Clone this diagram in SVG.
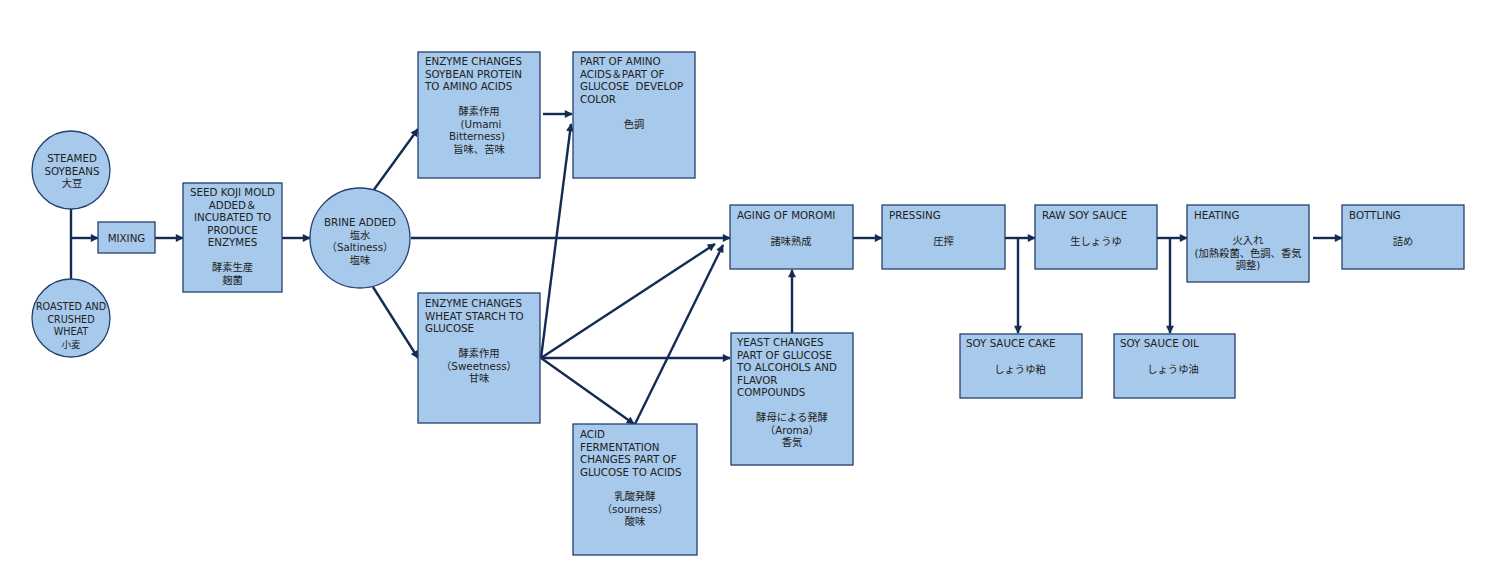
<svg xmlns="http://www.w3.org/2000/svg" width="1500" height="577" viewBox="0 0 1500 577">
<style>
.box{fill:#a7c9eb;stroke:#24406e;stroke-width:1.3}
.t{font-family:"DejaVu Sans","Noto Sans CJK JP",sans-serif;font-size:10.3px;fill:#222}
.c{text-anchor:middle}
.ln{stroke:#142b55;stroke-width:2.4;fill:none}
.ar{marker-end:url(#ah)}
</style>
<defs>
<marker id="ah" viewBox="0 0 10 10" refX="9" refY="5" markerUnits="userSpaceOnUse" markerWidth="9" markerHeight="8" orient="auto">
<path d="M0,0 L10,5 L0,10 z" fill="#142b55"/>
</marker>
</defs>
<rect width="1500" height="577" fill="#fff"/>
<g id="connectors">
<line class="ln" x1="71" y1="209" x2="71" y2="279"/>
<line class="ln ar" x1="71" y1="238" x2="98" y2="238"/>
<line class="ln ar" x1="155" y1="238" x2="183" y2="238"/>
<line class="ln ar" x1="282" y1="238" x2="310" y2="238"/>
<line class="ln ar" x1="373" y1="191" x2="418" y2="129"/>
<line class="ln ar" x1="373" y1="287" x2="418" y2="358"/>
<line class="ln ar" x1="411" y1="238" x2="730" y2="238"/>
<line class="ln ar" x1="543" y1="114" x2="572" y2="114"/>
<line class="ln ar" x1="541" y1="358" x2="571" y2="124"/>
<line class="ln ar" x1="541" y1="358" x2="715" y2="244"/>
<line class="ln ar" x1="541" y1="358" x2="730" y2="358"/>
<line class="ln ar" x1="541" y1="358" x2="634" y2="424"/>
<line class="ln ar" x1="635" y1="424" x2="723" y2="245"/>
<line class="ln ar" x1="792" y1="333" x2="792" y2="270"/>
<line class="ln ar" x1="853" y1="238" x2="882" y2="238"/>
<line class="ln ar" x1="1005" y1="238" x2="1035" y2="238"/>
<line class="ln ar" x1="1018" y1="237" x2="1018" y2="333"/>
<line class="ln ar" x1="1157" y1="238" x2="1187" y2="238"/>
<line class="ln ar" x1="1170" y1="237" x2="1170" y2="333"/>
<line class="ln ar" x1="1313" y1="238" x2="1342" y2="238"/>
</g>
<g id="steamed">
<circle class="box" cx="71" cy="170" r="39"/>
<text class="t c" x="72" y="162">STEAMED<tspan x="72" dy="12.5">SOYBEANS</tspan><tspan x="72" dy="12.5">大豆</tspan></text>
</g>
<g id="roasted">
<circle class="box" cx="71" cy="318" r="39"/>
<text class="t c" x="71" y="310" style="font-size:9.6px">ROASTED AND<tspan x="71" dy="12.5">CRUSHED</tspan><tspan x="71" dy="12.5">WHEAT</tspan><tspan x="71" dy="12.5">小麦</tspan></text>
</g>
<g id="mixing">
<rect class="box" x="98" y="222" width="57" height="31"/>
<text class="t c" x="126.5" y="242">MIXING</text>
</g>
<g id="seedkoji">
<rect class="box" x="183" y="183" width="99" height="109"/>
<text class="t c" x="232.5" y="196">SEED KOJI MOLD<tspan x="232.5" dy="12.5">ADDED＆</tspan><tspan x="232.5" dy="12.5">INCUBATED TO</tspan><tspan x="232.5" dy="12.5">PRODUCE</tspan><tspan x="232.5" dy="12.5">ENZYMES</tspan><tspan x="232.5" dy="25">酵素生産</tspan><tspan x="232.5" dy="12.5">麹菌</tspan></text>
</g>
<g id="brine">
<circle class="box" cx="360" cy="238" r="50"/>
<text class="t c" x="360" y="226">BRINE ADDED<tspan x="360" dy="12.5">塩水</tspan><tspan x="360" dy="12.5">（Saltiness）</tspan><tspan x="360" dy="12.5">塩味</tspan></text>
</g>
<g id="enzyme-soy">
<rect class="box" x="418" y="52" width="122" height="126"/>
<text class="t" x="425" y="65">ENZYME CHANGES<tspan x="425" dy="12.5">SOYBEAN PROTEIN</tspan><tspan x="425" dy="12.5">TO AMINO ACIDS</tspan></text>
<text class="t c" x="479" y="115">酵素作用<tspan x="481" dy="12.5">(Umami</tspan><tspan x="477" dy="12.5">Bitterness)</tspan><tspan x="479" dy="12.5">旨味、苦味</tspan></text>
</g>
<g id="color">
<rect class="box" x="573" y="52" width="122" height="126"/>
<text class="t" x="580" y="65">PART OF AMINO<tspan x="580" dy="12.5">ACIDS＆PART OF</tspan><tspan x="580" dy="12.5">GLUCOSE&#160; DEVELOP</tspan><tspan x="580" dy="12.5">COLOR</tspan></text>
<text class="t c" x="634" y="128">色調</text>
</g>
<g id="enzyme-wheat">
<rect class="box" x="418" y="293" width="122" height="130"/>
<text class="t" x="425" y="307">ENZYME CHANGES<tspan x="425" dy="12.5">WHEAT STARCH TO</tspan><tspan x="425" dy="12.5">GLUCOSE</tspan></text>
<text class="t c" x="479" y="357">酵素作用<tspan x="479" dy="12.5">（Sweetness）</tspan><tspan x="479" dy="12.5">甘味</tspan></text>
</g>
<g id="acid">
<rect class="box" x="573" y="424" width="124" height="131"/>
<text class="t" x="580" y="438">ACID<tspan x="580" dy="12.5">FERMENTATION</tspan><tspan x="580" dy="12.5">CHANGES PART OF</tspan><tspan x="580" dy="12.5">GLUCOSE TO ACIDS</tspan></text>
<text class="t c" x="635" y="500">乳酸発酵<tspan x="635" dy="12.5">（sourness）</tspan><tspan x="635" dy="12.5">酸味</tspan></text>
</g>
<g id="aging">
<rect class="box" x="730" y="205" width="123" height="64"/>
<text class="t" x="737" y="219">AGING OF MOROMI</text>
<text class="t c" x="791" y="245">諸味熟成</text>
</g>
<g id="yeast">
<rect class="box" x="731" y="333" width="122" height="132"/>
<text class="t" x="737" y="346">YEAST CHANGES<tspan x="737" dy="12.5">PART OF GLUCOSE</tspan><tspan x="737" dy="12.5">TO ALCOHOLS AND</tspan><tspan x="737" dy="12.5">FLAVOR</tspan><tspan x="737" dy="12.5">COMPOUNDS</tspan></text>
<text class="t c" x="792" y="421">酵母による発酵<tspan x="792" dy="12.5">（Aroma）</tspan><tspan x="792" dy="12.5">香気</tspan></text>
</g>
<g id="pressing">
<rect class="box" x="882" y="205" width="123" height="64"/>
<text class="t" x="889" y="219">PRESSING</text>
<text class="t c" x="943.5" y="245">圧搾</text>
</g>
<g id="raw">
<rect class="box" x="1035" y="205" width="122" height="64"/>
<text class="t" x="1042" y="219">RAW SOY SAUCE</text>
<text class="t c" x="1096" y="245">生しょうゆ</text>
</g>
<g id="heating">
<rect class="box" x="1187" y="205" width="122" height="77"/>
<text class="t" x="1194" y="219">HEATING</text>
<text class="t c" x="1248" y="244">火入れ<tspan x="1248" dy="12.5">(加熱殺菌、色調、香気</tspan><tspan x="1248" dy="12.5">調整)</tspan></text>
</g>
<g id="bottling">
<rect class="box" x="1342" y="205" width="122" height="64"/>
<text class="t" x="1349" y="219">BOTTLING</text>
<text class="t c" x="1403" y="245">詰め</text>
</g>
<g id="cake">
<rect class="box" x="960" y="334" width="122" height="64"/>
<text class="t" x="966" y="347">SOY SAUCE CAKE</text>
<text class="t c" x="1020" y="373">しょうゆ粕</text>
</g>
<g id="oil">
<rect class="box" x="1114" y="334" width="121" height="64"/>
<text class="t" x="1120" y="347">SOY SAUCE OIL</text>
<text class="t c" x="1173" y="373">しょうゆ油</text>
</g>
</svg>
